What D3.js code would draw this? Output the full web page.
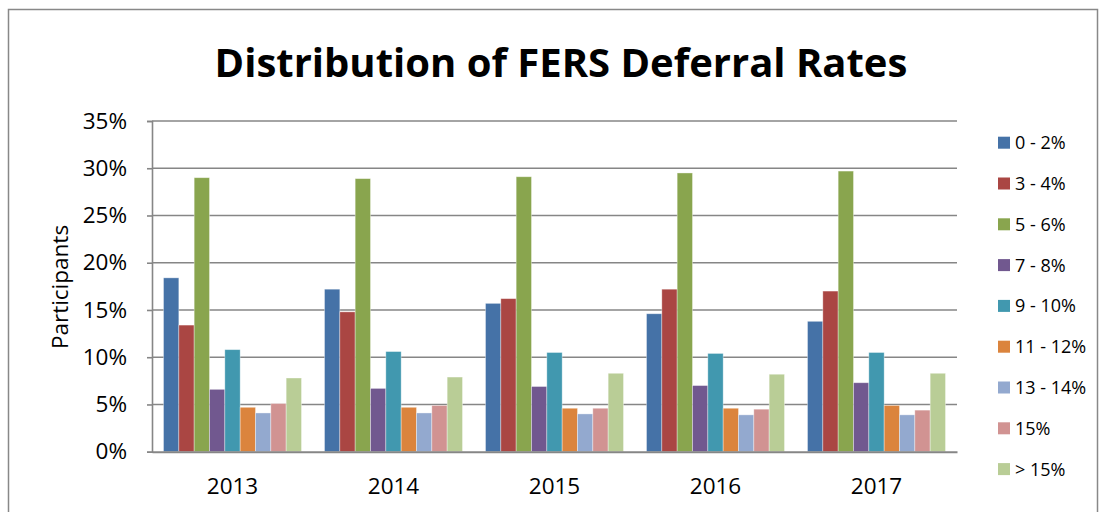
<!DOCTYPE html>
<html>
<head>
<meta charset="utf-8">
<script src="https://cdn.jsdelivr.net/npm/d3@7"></script>
<style>
  body { margin: 0; background: #fff; }
  svg { display: block; font-family: "Open Sans", sans-serif; }
</style>
</head>
<body>
<svg id="chart" width="1104" height="512"></svg>
<script>
var years = ["2013", "2014", "2015", "2016", "2017"];
var rates = ["0 - 2%", "3 - 4%", "5 - 6%", "7 - 8%", "9 - 10%", "11 - 12%", "13 - 14%", "15%", "> 15%"];
// percent of participants, one array per rate bucket (2013..2017)
var r0_2   = [18.4, 17.2, 15.7, 14.6, 13.8];
var r3_4   = [13.4, 14.8, 16.2, 17.2, 17.0];
var r5_6   = [29.0, 28.9, 29.1, 29.5, 29.7];
var r7_8   = [6.6, 6.7, 6.9, 7.0, 7.3];
var r9_10  = [10.8, 10.6, 10.5, 10.4, 10.5];
var r11_12 = [4.7, 4.7, 4.6, 4.6, 4.9];
var r13_14 = [4.1, 4.1, 4.0, 3.9, 3.9];
var r15    = [5.1, 4.9, 4.6, 4.5, 4.4];
var rOver  = [7.8, 7.9, 8.3, 8.2, 8.3];
var yTicks = [0, 5, 10, 15, 20, 25, 30, 35];

var series = [r0_2, r3_4, r5_6, r7_8, r9_10, r11_12, r13_14, r15, rOver];
var colors = ["#4572A7", "#AA4643", "#89A54E", "#71588F", "#4198AF",
              "#DB843D", "#93A9CF", "#D19392", "#B9CD96"];

var svg = d3.select("#chart");
var plot = {left: 152, right: 957, top: 121, bottom: 451.7};

// outer frame
svg.append("rect")
  .attr("x", 8.5).attr("y", 9.5)
  .attr("width", 1089).attr("height", 520)
  .attr("fill", "none").attr("stroke", "#888").attr("stroke-width", 1.5);

svg.append("text")
  .attr("x", 561).attr("y", 77)
  .attr("text-anchor", "middle")
  .attr("font-size", 40).attr("font-weight", "bold")
  .attr("fill", "#000")
  .text("Distribution of FERS Deferral Rates");

var x0 = d3.scaleBand().domain(years).range([plot.left, plot.right]).padding(0);
var x1 = d3.scaleBand().domain(rates).range([0, x0.bandwidth()])
  .paddingInner(0).paddingOuter(0.75);
var y = d3.scaleLinear().domain([0, 35]).range([plot.bottom, plot.top]);

// gridlines
svg.append("g").selectAll("line")
  .data(yTicks.slice(1))
  .enter().append("line")
  .attr("x1", plot.left).attr("x2", plot.right)
  .attr("y1", function(d) { return y(d); })
  .attr("y2", function(d) { return y(d); })
  .attr("stroke", "#868686").attr("stroke-width", 1.6);

// bars
var groups = svg.append("g").selectAll("g")
  .data(series)
  .enter().append("g")
  .attr("fill", function(d, i) { return colors[i]; });

groups.each(function(vals, i) {
  d3.select(this).selectAll("rect")
    .data(vals)
    .enter().append("rect")
    .attr("x", function(d, j) { return x0(years[j]) + x1(rates[i]); })
    .attr("y", function(d) { return y(d); })
    .attr("width", x1.bandwidth())
    .attr("height", function(d) { return y(0) - y(d); })
    .attr("stroke", "rgba(255,255,255,0.45)")
    .attr("stroke-width", 0.8);
});

// y axis
var yAxis = svg.append("g")
  .attr("transform", "translate(" + plot.left + ",0)")
  .call(d3.axisLeft(y).tickValues(yTicks).tickSize(5).tickPadding(20)
    .tickFormat(function(d) { return d + "%"; }));
yAxis.select(".domain").attr("stroke", "#868686").attr("stroke-width", 1.6);
yAxis.selectAll(".tick line").attr("stroke", "#868686").attr("stroke-width", 1.6);
yAxis.selectAll(".tick text")
  .attr("font-size", 22.5).attr("font-family", "Open Sans").attr("fill", "#000");

// x axis
var xAxis = svg.append("g")
  .attr("transform", "translate(0," + plot.bottom + ")")
  .call(d3.axisBottom(x0).tickSize(0).tickPadding(26));
xAxis.select(".domain").attr("stroke", "#868686").attr("stroke-width", 2);
xAxis.selectAll(".tick text")
  .attr("font-size", 22.5).attr("font-family", "Open Sans").attr("fill", "#000");

svg.append("text")
  .attr("transform", "translate(68,287) rotate(-90)")
  .attr("text-anchor", "middle")
  .attr("font-size", 22.5).attr("fill", "#000")
  .text("Participants");

// legend
var legend = svg.append("g").selectAll("g")
  .data(rates)
  .enter().append("g")
  .attr("transform", function(d, i) { return "translate(998," + (142.7 + i * 40.8) + ")"; });
legend.append("rect")
  .attr("x", 0).attr("y", -6).attr("width", 12).attr("height", 12)
  .attr("fill", function(d, i) { return colors[i]; });
legend.append("text")
  .attr("x", 17).attr("y", 6.5)
  .attr("font-size", 18).attr("fill", "#000")
  .text(function(d) { return d; });
</script>
</body>
</html>
